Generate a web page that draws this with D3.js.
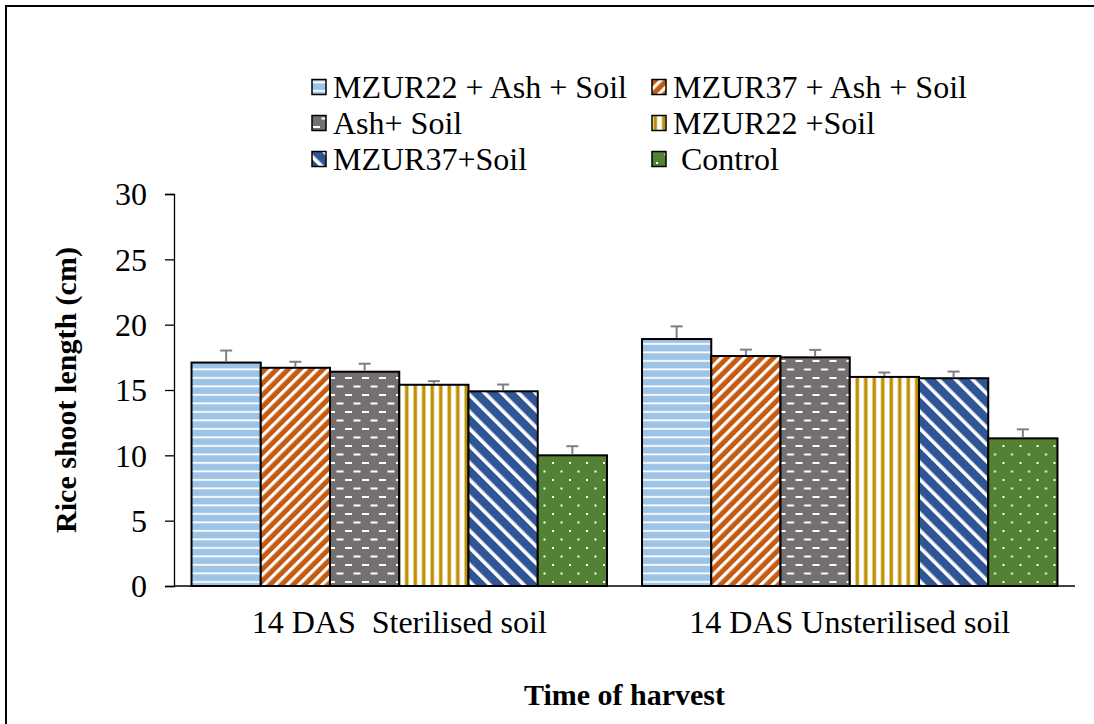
<!DOCTYPE html>
<html>
<head>
<meta charset="utf-8">
<script src="https://cdn.jsdelivr.net/npm/d3@7"></script>
<style>
  html, body { margin: 0; padding: 0; background: #fff; }
  svg { display: block; }
  text { font-family: "Liberation Serif", "Times New Roman", serif; fill: #000; white-space: pre; }
</style>
</head>
<body>
<svg id="chart" width="1094" height="724"></svg>
<script>
// Harvest groups along the x axis
const categories = ["14 DAS  Sterilised soil", "14 DAS Unsterilised soil"];

// Treatments (one bar per treatment in each group)
const seriesNames = ["MZUR22 + Ash + Soil", "MZUR37 + Ash + Soil", "Ash+ Soil", "MZUR22 +Soil", "MZUR37+Soil", " Control"];

// Mean shoot length (cm), one array per treatment: [sterilised, unsterilised]
const mzur22AshSoil = [17.1, 18.9];
const mzur37AshSoil = [16.7, 17.6];
const ashSoil       = [16.4, 17.5];
const mzur22Soil    = [15.4, 16.0];
const mzur37Soil    = [14.9, 15.9];
const control       = [10.0, 11.3];

// Standard error (upper whisker), same layout
const errMzur22AshSoil = [0.92, 0.97];
const errMzur37AshSoil = [0.46, 0.49];
const errAshSoil       = [0.61, 0.57];
const errMzur22Soil    = [0.28, 0.34];
const errMzur37Soil    = [0.52, 0.51];
const errControl       = [0.70, 0.69];

const yTicks = [0, 5, 10, 15, 20, 25, 30];

const values = [mzur22AshSoil, mzur37AshSoil, ashSoil, mzur22Soil, mzur37Soil, control];
const errors = [errMzur22AshSoil, errMzur37AshSoil, errAshSoil, errMzur22Soil, errMzur37Soil, errControl];
const patternIds = ["pHoriz", "pUpDiag", "pDash", "pVert", "pDownDiag", "pDots"];

const serif = "'Liberation Serif', 'Times New Roman', serif";
const svg = d3.select("#chart");
const defs = svg.append("defs");

// ---- fill patterns ----
function pattern(id, w, h, transform) {
  const p = defs.append("pattern").attr("id", id)
    .attr("patternUnits", "userSpaceOnUse")
    .attr("width", w).attr("height", h);
  if (transform) p.attr("patternTransform", transform);
  return p;
}
// light blue with horizontal white lines
let p = pattern("pHoriz", 10, 8.5);
p.append("rect").attr("width", 10).attr("height", 8.5).attr("fill", "#9DC3E6");
p.append("rect").attr("y", 3).attr("width", 10).attr("height", 1.8).attr("fill", "#fff");
// orange with white upward diagonals
p = pattern("pUpDiag", 8.2, 8.2, "rotate(45)");
p.append("rect").attr("width", 8.2).attr("height", 8.2).attr("fill", "#C55A11");
p.append("rect").attr("x", 0).attr("width", 3.2).attr("height", 8.2).attr("fill", "#fff");
// grey with short white dashes
p = pattern("pDash", 17, 17);
p.append("rect").attr("width", 17).attr("height", 17).attr("fill", "#747070");
p.append("rect").attr("x", 1).attr("y", 3).attr("width", 7).attr("height", 2).attr("fill", "#fff");
p.append("rect").attr("x", 9.5).attr("y", 11.5).attr("width", 7).attr("height", 2).attr("fill", "#fff");
// gold vertical stripes on white
p = pattern("pVert", 8.5, 10);
p.append("rect").attr("width", 8.5).attr("height", 10).attr("fill", "#fff");
p.append("rect").attr("x", 1.5).attr("width", 3.5).attr("height", 10).attr("fill", "#BF9000");
// dark blue with white downward diagonals
p = pattern("pDownDiag", 12, 12, "rotate(-45)");
p.append("rect").attr("width", 12).attr("height", 12).attr("fill", "#2F5597");
p.append("rect").attr("x", 0).attr("width", 3.6).attr("height", 12).attr("fill", "#fff");
// green with white dots
p = pattern("pDots", 17, 17);
p.append("rect").attr("width", 17).attr("height", 17).attr("fill", "#548235");
p.append("rect").attr("x", 4).attr("y", 3).attr("width", 2).attr("height", 2).attr("fill", "#fff");
p.append("rect").attr("x", 12.5).attr("y", 11.5).attr("width", 2).attr("height", 2).attr("fill", "#fff");

// ---- outer frame ----
svg.append("rect").attr("x", 6).attr("y", 6).attr("width", 1200).attr("height", 800)
  .attr("fill", "none").attr("stroke", "#000").attr("stroke-width", 2);

// ---- scales ----
const plot = { left: 174, right: 1075, top: 194, bottom: 586 };
const x0 = d3.scaleBand().domain(categories).range([plot.left, plot.right]).padding(0);
const x1 = d3.scaleBand().domain(d3.range(seriesNames.length))
  .range([0, x0.bandwidth()]).paddingInner(0).paddingOuter(0.253);
const y = d3.scaleLinear().domain([0, 30]).range([plot.bottom, plot.top]);

// ---- y axis ----
const yAxis = svg.append("g").attr("transform", `translate(${plot.left},0)`)
  .call(d3.axisLeft(y).tickValues(yTicks).tickSize(9).tickPadding(18).tickFormat(d3.format("d")));
yAxis.attr("font-family", serif);
yAxis.select(".domain").attr("stroke", "#000").attr("stroke-width", 1.3);
yAxis.selectAll(".tick line").attr("stroke", "#000").attr("stroke-width", 1.3);
yAxis.selectAll(".tick text").attr("font-size", 32).attr("dy", "0.34em")
  .style("font-family", serif).attr("fill", "#000");

// ---- bars ----
const groups = svg.append("g").selectAll("g").data(categories).join("g")
  .attr("transform", d => `translate(${x0(d)},0)`);

groups.each(function (cat, ci) {
  const g = d3.select(this);
  const rows = seriesNames.map((s, si) => ({ si, v: values[si][ci], e: errors[si][ci] }));
  g.selectAll("rect.bar").data(rows).join("rect").attr("class", "bar")
    .attr("x", d => x1(d.si))
    .attr("y", d => y(d.v))
    .attr("width", x1.bandwidth())
    .attr("height", d => y(0) - y(d.v))
    .attr("fill", d => `url(#${patternIds[d.si]})`)
    .attr("stroke", "#000").attr("stroke-width", 2);

  // upper error whiskers
  const eb = g.selectAll("g.err").data(rows).join("g").attr("class", "err")
    .attr("stroke", "#7F7F7F").attr("stroke-width", 2);
  eb.append("line")
    .attr("x1", d => x1(d.si) + x1.bandwidth() / 2).attr("x2", d => x1(d.si) + x1.bandwidth() / 2)
    .attr("y1", d => y(d.v) - 1).attr("y2", d => y(d.v + d.e));
  eb.append("line")
    .attr("x1", d => x1(d.si) + x1.bandwidth() / 2 - 6).attr("x2", d => x1(d.si) + x1.bandwidth() / 2 + 6)
    .attr("y1", d => y(d.v + d.e)).attr("y2", d => y(d.v + d.e));
});

// ---- x axis line and category labels ----
svg.append("line").attr("x1", plot.left).attr("x2", plot.right)
  .attr("y1", plot.bottom).attr("y2", plot.bottom)
  .attr("stroke", "#000").attr("stroke-width", 1.3);

svg.append("g").selectAll("text").data(categories).join("text")
  .attr("x", d => x0(d) + x0.bandwidth() / 2).attr("y", 633)
  .attr("text-anchor", "middle").attr("font-size", 32).attr("font-family", serif).text(d => d);

// ---- axis titles ----
svg.append("text").attr("x", (plot.left + plot.right) / 2).attr("y", 705)
  .attr("text-anchor", "middle").attr("font-size", 30).attr("font-weight", "bold")
  .attr("font-family", serif).text("Time of harvest");

svg.append("text")
  .attr("transform", `translate(76,${(plot.top + plot.bottom) / 2}) rotate(-90)`)
  .attr("text-anchor", "middle").attr("font-size", 30).attr("font-weight", "bold")
  .attr("font-family", serif).text("Rice shoot length (cm)");

// ---- legend ----
const legendCols = [312, 652];
const legendRowY = [87, 123, 159];
const legend = svg.append("g").selectAll("g").data(seriesNames).join("g")
  .attr("transform", (d, i) => `translate(${legendCols[i % 2]},${legendRowY[Math.floor(i / 2)]})`);
legend.append("rect").attr("x", 0).attr("y", -7.5).attr("width", 14).attr("height", 15)
  .attr("fill", (d, i) => `url(#${patternIds[i]})`)
  .attr("stroke", "#000").attr("stroke-width", 1.5);
legend.append("text").attr("x", 21).attr("y", 10.5).attr("font-size", 32)
  .attr("font-family", serif).text(d => d);
</script>
</body>
</html>
